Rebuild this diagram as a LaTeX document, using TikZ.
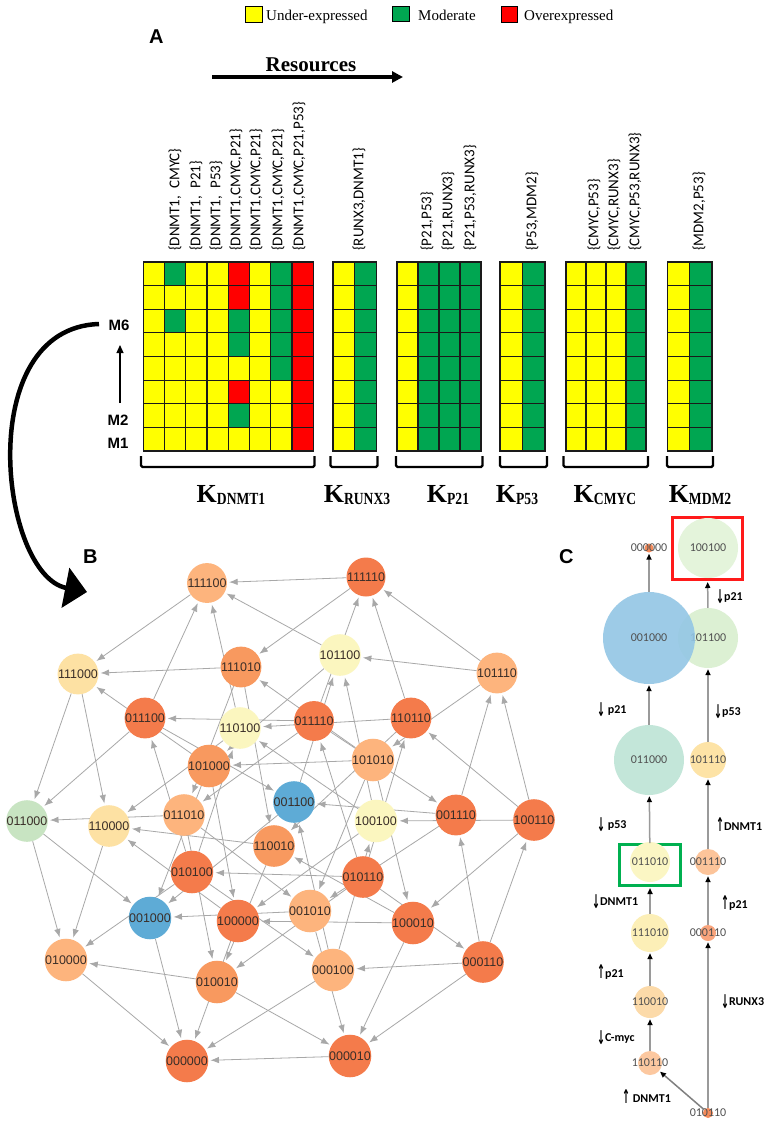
\documentclass[tikz,border=0pt]{standalone}
\usepackage{fontspec}
\usepackage{graphicx}
\setmainfont{Liberation Serif}
\newfontfamily\calib{Carlito}
\newfontfamily\arialf{Liberation Sans}
\newfontfamily\djv{DejaVu Sans}
\usetikzlibrary{arrows.meta}
\pgfdeclarelayer{bglayer}
\pgfdeclarelayer{edgelayer}
\pgfsetlayers{bglayer,edgelayer,main}
\definecolor{cY}{HTML}{FFFF00}
\definecolor{cG}{HTML}{00A651}
\definecolor{cR}{HTML}{FF0000}
\definecolor{gridln}{HTML}{1A1A1A}
\definecolor{edgegray}{HTML}{A8A8A8}
\definecolor{bntext}{HTML}{3A2E28}
\definecolor{ndk}{HTML}{F47B4B}
\definecolor{nmd}{HTML}{F8995F}
\definecolor{nlo}{HTML}{FDB47D}
\definecolor{npe}{HTML}{FDE1A3}
\definecolor{npy}{HTML}{FBF6BF}
\definecolor{nbl}{HTML}{5EABD6}
\definecolor{nlg}{HTML}{C8E4C2}
\definecolor{ctext}{HTML}{505050}
\definecolor{cline}{HTML}{9A9A9A}
\definecolor{boxred}{HTML}{FF1A1A}
\definecolor{boxgreen}{HTML}{00B050}
\definecolor{cA}{HTML}{E4F4DB}
\definecolor{cB}{HTML}{DCF0D3}
\definecolor{cC}{HTML}{93C6E5}
\definecolor{cD}{HTML}{C3E6D9}
\definecolor{cE}{HTML}{FDE3A6}
\definecolor{cF}{HTML}{FBF6C4}
\definecolor{cH}{HTML}{FCC49A}
\definecolor{cI}{HTML}{FCEFB7}
\definecolor{cJ}{HTML}{F9A47C}
\definecolor{cK}{HTML}{FCDAA9}
\definecolor{cL}{HTML}{FCC8A0}
\definecolor{cM}{HTML}{F58B5B}

\newcommand\kgroup[3]{%
  \foreach \col [count=\j from 0] in {#3}{%
    \foreach \cc [count=\i from 0] in \col{%
      \filldraw[fill=c\cc, draw=gridln, line width=1.2pt]
        ({#1+\j*#2},{262+\i*23.625}) rectangle ++(#2,23.625);
    }%
  }%
}
\newcommand\kname[1]{{\fontsize{26}{26}\selectfont\bfseries K}{\fontsize{17}{17}\selectfont\bfseries\raisebox{-2.5pt}{\scalebox{0.8}[1]{#1}}}}
\newcommand\mydn{{\djv\bfseries\fontsize{19}{19}\selectfont\raisebox{-3pt}{\scalebox{0.5}[1]{↓}}}}
\newcommand\myup{{\djv\bfseries\fontsize{19}{19}\selectfont\raisebox{-1.5pt}{\scalebox{0.5}[1]{↑}}}}

\begin{document}
\begin{tikzpicture}[x=1pt,y=-1pt,
 bnode/.style={circle, minimum size=39pt, inner sep=0pt, font=\arialf\fontsize{12.5}{12.5}\selectfont, text=bntext},
 bedge/.style={draw=edgegray, line width=0.8pt, -{Latex[length=8.5pt,width=6.5pt]}, shorten >=2pt},
 cc/.style={circle, inner sep=0pt},
 ctx/.style={font=\calib\fontsize{12}{12}\selectfont, text=ctext, inner sep=0pt},
 carr/.style={draw=cline, line width=1.5pt, -{Triangle[length=6pt,width=5pt,color=black]}, shorten >=1pt},
 clab/.style={anchor=west, inner sep=0pt, font=\calib\bfseries\fontsize{12}{12}\selectfont},
 collab/.style={rotate=90, anchor=west, inner sep=0pt, font=\calib\fontsize{15}{15}\selectfont},
 klab/.style={anchor=base, inner sep=0pt},
 legbox/.style={draw=black, line width=1.3pt, minimum width=16.5pt, minimum height=15.5pt, inner sep=0pt},
 legtxt/.style={anchor=base west, inner sep=0pt, font=\fontsize{15}{15}\selectfont},
 plab/.style={anchor=base west, inner sep=0pt, font=\arialf\bfseries\fontsize{20}{20}\selectfont},
 mlab/.style={inner sep=0pt, font=\arialf\bfseries\fontsize{15}{15}\selectfont},
 brk/.style={line width=2.4pt, line join=round, rounded corners=1.5pt}
]
\begin{pgfonlayer}{bglayer}
\fill[white] (0,0) rectangle (768,1121);
\end{pgfonlayer}
\useasboundingbox (0,0) rectangle (768,1121);

% ---------- legend ----------
\node[legbox, fill=cY] (lgy) at (254,14.5) {};
\node[legtxt] (lgyt) at (266,21) {Under-expressed};
\node[legbox, fill=cG] (lgg) at (401,14) {};
\node[legtxt] (lggt) at (418,21) {Moderate};
\node[legbox, fill=cR] (lgr) at (509.5,14.5) {};
\node[legtxt] (lgrt) at (524,21) {Overexpressed};

% ---------- panel labels ----------
\node[plab] (pA) at (149,44) {A};
\node[plab] (pB) at (83,563) {B};
\node[plab] (pC) at (559,563) {C};

% ---------- resources ----------
\node[anchor=base, inner sep=0pt, font=\bfseries\fontsize{21}{21}\selectfont] (res) at (311,71.5) {Resources};
\coordinate (resA) at (212,77);
\coordinate (resB) at (403,77);
\draw[line width=3.5pt, -{Triangle[length=11pt,width=11pt]}] (resA) -- (resB);

% ---------- column labels ----------
\node[collab] (a1) at (175,251) {\{DNMT1,\hspace{7pt}CMYC\}};
\node[collab] (a2) at (196,251) {\{DNMT1,\hspace{7pt}P21\}};
\node[collab] (a3) at (216,251) {\{DNMT1,\hspace{7pt}P53\}};
\node[collab] (a4) at (236,251) {\{DNMT1,CMYC,P21\}};
\node[collab] (a5) at (256,251) {\{DNMT1,CMYC,P21\}};
\node[collab] (a6) at (278,251) {\{DNMT1,CMYC,P21\}};
\node[collab] (a7) at (299,251) {\{DNMT1,CMYC,P21,P53\}};
\node[collab] (b1) at (359,251) {\{RUNX3,DNMT1\}};
\node[collab] (c1) at (427,251) {\{P21,P53\}};
\node[collab] (c2) at (448,251) {\{P21,RUNX3\}};
\node[collab] (c3) at (470,251) {\{P21,P53,RUNX3\}};
\node[collab] (d1) at (532,251) {\{P53,MDM2\}};
\node[collab] (e1) at (594,251) {\{CMYC,P53\}};
\node[collab] (e2) at (614,251) {\{CMYC,RUNX3\}};
\node[collab] (e3) at (635,251) {\{CMYC,P53,RUNX3\}};
\node[collab] (f1) at (699,251) {\{MDM2,P53\}};

% ---------- grids ----------
\kgroup{143.3}{21.25}{{Y,Y,Y,Y,Y,Y,Y,Y},{G,Y,G,Y,Y,Y,Y,Y},{Y,Y,Y,Y,Y,Y,Y,Y},{Y,Y,Y,Y,Y,Y,Y,Y},{R,R,G,G,Y,R,G,Y},{Y,Y,Y,Y,Y,Y,Y,Y},{G,G,G,G,G,Y,Y,Y},{R,R,R,R,R,R,R,R}}
\kgroup{333}{21.75}{{Y,Y,Y,Y,Y,Y,Y,Y},{G,G,G,G,G,G,G,G}}
\kgroup{397}{21}{{Y,Y,Y,Y,Y,Y,Y,Y},{G,G,G,G,G,G,G,G},{G,G,G,G,G,G,G,G},{G,G,G,G,G,G,G,G}}
\kgroup{500}{22.5}{{Y,Y,Y,Y,Y,Y,Y,Y},{G,G,G,G,G,G,G,G}}
\kgroup{566}{20}{{Y,Y,Y,Y,Y,Y,Y,Y},{Y,Y,Y,Y,Y,Y,Y,Y},{Y,Y,Y,Y,Y,Y,Y,Y},{G,G,G,G,G,G,G,G}}
\kgroup{667.5}{22.25}{{Y,Y,Y,Y,Y,Y,Y,Y},{G,G,G,G,G,G,G,G}}

% ---------- brackets ----------
\draw[brk] (141,456) -- (141,467) -- (314.5,467) -- (314.5,456);
\draw[brk] (330.5,456) -- (330.5,467) -- (377.5,467) -- (377.5,456);
\draw[brk] (396,456) -- (396,467) -- (482.5,467) -- (482.5,456);
\draw[brk] (500,456) -- (500,467) -- (547,467) -- (547,456);
\draw[brk] (563.5,456) -- (563.5,467) -- (648,467) -- (648,456);
\draw[brk] (667,456) -- (667,467) -- (713,467) -- (713,456);

% ---------- K labels ----------
\node[klab] (k1) at (231,502) {\kname{DNMT1}};
\node[klab] (k2) at (357,502) {\kname{RUNX3}};
\node[klab] (k3) at (448,502) {\kname{P21}};
\node[klab] (k4) at (517,502) {\kname{P53}};
\node[klab] (k5) at (605,502) {\kname{CMYC}};
\node[klab] (k6) at (700,502) {\kname{MDM2}};

% ---------- M labels ----------
\node[mlab] (m6) at (119,325) {M6};
\node[mlab] (m2) at (118,420) {M2};
\node[mlab] (m1) at (118,443) {M1};
\coordinate (mA) at (120,403);
\coordinate (mB) at (120,345);
\draw[line width=1.2pt, -{Triangle[length=8pt,width=7pt]}] (mA) -- (mB);

% ---------- big curved arrow ----------
\coordinate (bigS) at (99,324);
\coordinate (bigE) at (87,592);
\draw[line width=4.5pt, -{Triangle[length=22pt,width=40pt]}] (bigS) .. controls (-28,328) and (0,575) .. (bigE);

% ---------- panel B nodes ----------
\foreach \nm/\lb/\xx/\yy/\cl in {
 s11110/111100/207/583/nlo, s11111/111110/366/577/ndk, s11100/111000/78/674/npe,
 s11101/111010/241/667/nmd, s10110/101100/340/655/npy, s10111/101110/497/673/nlo,
 s01110/011100/145/718/ndk, s11010/110100/240/728/npy, s01111/011110/314/721/ndk,
 s11011/110110/411/718/ndk, s10100/101000/209/766/nmd, s10101/101010/373/760/nlo,
 s01101/011010/184/815/nlo, s00110/001100/294/802/nbl, s10010/100100/376/821/npy,
 s00111/001110/456/815/ndk, s10011/100110/534/820/ndk, s01100/011000/27/821/nlg,
 s11000/110000/109/826/npe, s11001/110010/274/846/nmd, s01010/010100/192/872/ndk,
 s01011/010110/363/877/ndk, s00100/001000/150/918/nbl, s10000/100000/238/921/ndk,
 s00101/001010/310/911/nlo, s10001/100010/413/923/ndk, s01000/010000/66/960/nlo,
 s01001/010010/217/982/nmd, s00010/000100/333/970/nlo, s00011/000110/483/962/ndk,
 s00000/000000/187/1061/ndk, s00001/000010/350/1056/ndk}
 \node[bnode, fill=\cl] (\nm) at (\xx,\yy) {\lb};

\begin{pgfonlayer}{edgelayer}
\foreach \a/\b in {
 s00001/s00000,
 s00010/s10010, s00010/s00110, s00010/s00000,
 s00011/s10011, s00011/s00111, s00011/s00001, s00011/s00010,
 s00100/s00000,
 s00101/s00001, s00101/s00100,
 s00110/s10110, s00110/s00100,
 s00111/s10111, s00111/s00101, s00111/s00110,
 s01000/s00000,
 s01001/s00001, s01001/s01000,
 s01010/s11010, s01010/s00010, s01010/s01110, s01010/s01000,
 s01011/s11011, s01011/s00011, s01011/s01111, s01011/s01001, s01011/s01010,
 s01100/s00100, s01100/s01000,
 s01101/s00101, s01101/s01001, s01101/s01100,
 s01110/s11110, s01110/s00110, s01110/s01100,
 s01111/s11111, s01111/s00111, s01111/s01101, s01111/s01110,
 s10000/s00000, s10000/s11000,
 s10001/s00001, s10001/s11001, s10001/s10000,
 s10010/s11010, s10010/s10110, s10010/s10000,
 s10011/s11011, s10011/s10111, s10011/s10001, s10011/s10010,
 s10100/s00100, s10100/s11100, s10100/s10000,
 s10101/s00101, s10101/s11101, s10101/s10001, s10101/s10100,
 s10110/s11110, s10110/s10100,
 s10111/s11111, s10111/s10101, s10111/s10110,
 s11000/s01000,
 s11001/s01001, s11001/s11000,
 s11010/s11110, s11010/s11000,
 s11011/s11111, s11011/s11001, s11011/s11010,
 s11100/s01100, s11100/s11000,
 s11101/s01101, s11101/s11001, s11101/s11100,
 s11110/s11100,
 s11111/s11101, s11111/s11110}
 \draw[bedge] (\a) -- (\b);
\end{pgfonlayer}

% ---------- panel C ----------
\node[draw=boxred, line width=3pt, minimum width=70pt, minimum height=62pt, inner sep=0pt] (redbox) at (707.5,548.5) {};
\node[draw=boxgreen, line width=3pt, minimum width=61pt, minimum height=41pt, inner sep=0pt] (grbox) at (650,865) {};

\node[cc, fill=cM, minimum size=9pt] (c000000) at (649,548) {};
\node[ctx] (c000000t) at (649,548) {000000};
\node[cc, fill=cA, minimum size=60pt, label={[ctx]center:100100}] (c100100) at (708,548) {};
\node[cc, fill=cB, minimum size=60pt, label={[ctx]center:101100}] (c101100) at (708,638) {};
\node[cc, fill=cC, fill opacity=0.9, minimum size=92pt, label={[ctx]center:001000}] (c001000) at (649,638) {};
\node[cc, fill=cD, minimum size=70pt, label={[ctx]center:011000}] (c011000) at (649,760) {};
\node[cc, fill=cE, minimum size=36pt, label={[ctx]center:101110}] (c101110) at (708,760) {};
\node[cc, fill=cF, minimum size=40pt, label={[ctx]center:011010}] (c011010) at (650,862) {};
\node[cc, fill=cH, minimum size=26pt, label={[ctx]center:001110}] (c001110) at (708,862) {};
\node[cc, fill=cI, minimum size=38pt, label={[ctx]center:111010}] (c111010) at (650,933) {};
\node[cc, fill=cJ, minimum size=16pt, label={[ctx]center:000110}] (c000110) at (708,933) {};
\node[cc, fill=cK, minimum size=32pt, label={[ctx]center:110010}] (c110010) at (650,1002) {};
\node[cc, fill=cL, minimum size=24pt, label={[ctx]center:110110}] (c110110) at (650,1063) {};
\node[cc, fill=cM, minimum size=10pt] (c010110) at (708,1113) {};
\node[ctx] (c010110t) at (708,1113) {010110};

\draw[carr] (c001000) -- (c000000);
\draw[carr] (c011000) -- (c001000);
\draw[carr] (c101100) -- (redbox);
\draw[carr] (c101110) -- (c101100);
\draw[carr] (grbox) -- (c011000);
\draw[carr] (c111010) -- (grbox);
\draw[carr] (c110010) -- (c111010);
\draw[carr] (c110110) -- (c110010);
\draw[carr, draw=gray] (c010110) -- (c110110);
\draw[carr] (c010110) -- (c000110);
\draw[carr] (c000110) -- (c001110);
\draw[carr] (c001110) -- (c101110);

\node[clab] (l1) at (716,597) {\mydn p21};
\node[clab] (l2) at (597,710) {\mydn\ p21};
\node[clab] (l3) at (714,712) {\mydn p53};
\node[clab] (l4) at (597,825) {\mydn\ p53};
\node[clab] (l5) at (716,825) {\myup DNMT1};
\node[clab] (l6) at (592,902) {\mydn DNMT1};
\node[clab] (l7) at (721,903) {\myup p21};
\node[clab] (l8) at (597,972) {\myup p21};
\node[clab] (l9) at (721,1002) {\mydn RUNX3};
\node[clab] (l10) at (597,1038) {\mydn C-myc};
\node[clab] (l11) at (622,1097) {\myup\ DNMT1};
\end{tikzpicture}
\end{document}
